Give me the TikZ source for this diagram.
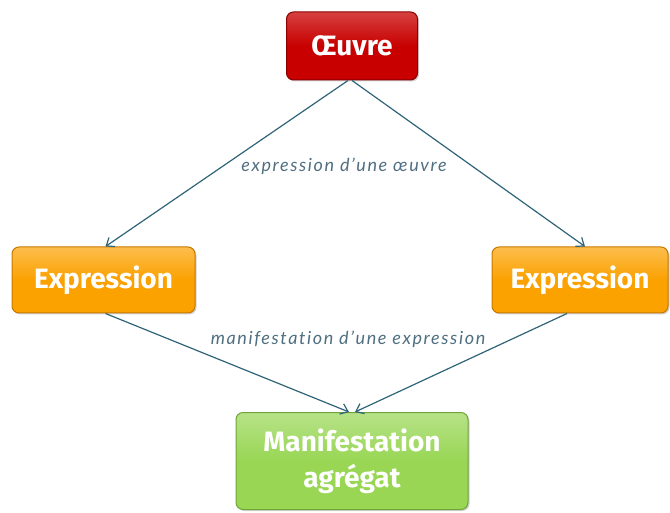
\documentclass[tikz,border=0pt]{standalone}
\usepackage{fontspec}
\setmainfont{Fira Sans}
\newfontfamily\labfont{Lato}[LetterSpace=9,Ligatures=NoCommon]
\usetikzlibrary{arrows.meta,shadows}
\definecolor{linec}{HTML}{2F6478}
\definecolor{labc}{HTML}{4F6F80}
\definecolor{redf}{HTML}{C80000}
\definecolor{redb}{HTML}{8A0000}
\definecolor{orf}{HTML}{FBA100}
\definecolor{orb}{HTML}{C77800}
\definecolor{grf}{HTML}{98D654}
\definecolor{grb}{HTML}{6FA536}
\tikzset{
  boxnode/.style={rounded corners=7pt, line width=1pt, text=white,
    font=\fontsize{28}{36}\selectfont\bfseries, align=center, inner sep=0pt,
    drop shadow={shadow xshift=1.5pt,shadow yshift=-1.5pt,opacity=0.35}},
  redbox/.style={boxnode, draw=redb, top color=redf!75!white, bottom color=redf, middle color=redf},
  orbox/.style={boxnode, draw=orb, top color=orf!70!white, bottom color=orf, middle color=orf},
  grbox/.style={boxnode, draw=grb, top color=grf!70!white, bottom color=grf, middle color=grf},
  conn/.style={draw=linec, line width=1.2pt, -{Straight Barb[length=7pt,width=11pt,line width=1.2pt]}},
  lab/.style={text=labc, font=\labfont\itshape\fontsize{18}{20}\selectfont}
}
\begin{document}
\begin{tikzpicture}[x=1pt,y=-1pt]
\useasboundingbox (0,0) rectangle (670,513);
\node[redbox, minimum width=131pt, minimum height=68pt] (oeuvre) at (352,46) {Œuvre};
\node[orbox, minimum width=183pt, minimum height=66pt] (expl) at (103.5,280) {Expression};
\node[orbox, minimum width=176pt, minimum height=66pt] (expr) at (580,280) {Expression};
\node[grbox, minimum width=232pt, minimum height=97pt] (manif) at (352,461) {Manifestation\\agrégat};
\coordinate (o1) at ([xshift=-4pt]oeuvre.south);
\coordinate (o2) at ([xshift=0pt]oeuvre.south);
\coordinate (m1) at ([xshift=-3pt]manif.north);
\coordinate (m2) at ([xshift=3pt]manif.north);
\draw[conn] (o1) -- ([xshift=2pt]expl.north);
\draw[conn] (o2) -- ([xshift=5pt]expr.north);
\draw[conn] ([xshift=2pt]expl.south) -- (m1);
\draw[conn] ([xshift=-13pt]expr.south) -- (m2);
\node[lab] (l1) at (344,166) {expression d’une œuvre};
\node[lab] (l2) at (348,339) {manifestation d’une expression};
\end{tikzpicture}
\end{document}
